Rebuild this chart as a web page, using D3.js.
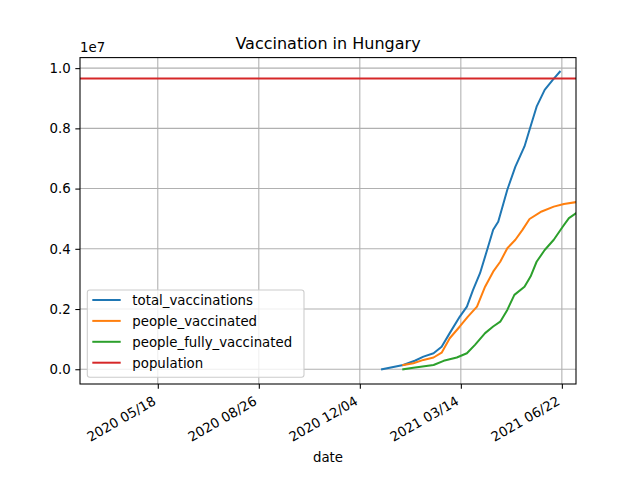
<!DOCTYPE html>
<html>
<head>
<meta charset="utf-8">
<script src="https://cdn.jsdelivr.net/npm/d3@7"></script>
<style>
body { margin: 0; background: #fff; }
text { font-family: "DejaVu Sans", sans-serif; fill: #000; }
</style>
</head>
<body>
<svg id="svg" width="640" height="480"></svg>
<script>
// values
var totalDates = ["2020-12-26","2021-01-16","2021-01-28","2021-02-05","2021-02-15","2021-02-23","2021-03-03","2021-03-13","2021-03-20","2021-03-26","2021-04-02","2021-04-09","2021-04-15","2021-04-20","2021-04-29","2021-05-07","2021-05-16","2021-05-22","2021-05-28","2021-06-05","2021-06-13","2021-06-20"];
var totalVals = [0,0.14,0.29,0.42,0.53,0.75,1.2,1.75,2.08,2.63,3.19,3.96,4.63,4.9,5.96,6.73,7.4,8.06,8.72,9.28,9.61,9.88];

var peopleDates = ["2021-01-16","2021-01-26","2021-02-05","2021-02-15","2021-02-23","2021-03-03","2021-03-13","2021-03-21","2021-03-30","2021-04-07","2021-04-15","2021-04-22","2021-04-29","2021-05-07","2021-05-14","2021-05-21","2021-06-02","2021-06-14","2021-06-24","2021-07-06"];
var peopleVals = [0.14,0.2,0.31,0.39,0.55,1.03,1.42,1.75,2.08,2.74,3.24,3.57,4.02,4.3,4.63,4.99,5.24,5.4,5.49,5.55];

var fullyDates = ["2021-01-16","2021-01-26","2021-02-15","2021-02-25","2021-03-10","2021-03-20","2021-03-28","2021-04-07","2021-04-15","2021-04-22","2021-04-29","2021-05-06","2021-05-16","2021-05-22","2021-05-28","2021-06-05","2021-06-14","2021-06-23","2021-06-29","2021-07-06"];
var fullyVals = [0,0.05,0.14,0.28,0.39,0.53,0.81,1.2,1.42,1.58,1.97,2.47,2.74,3.08,3.57,3.96,4.3,4.74,5.02,5.18];

var popDates = ["2020-03-02","2021-07-06"];
var popVals = [9.66,9.66];

var xTicks = ["2020-05-18","2020-08-26","2020-12-04","2021-03-14","2021-06-22"];
var yTicks = [0,0.2,0.4,0.6,0.8,1.0];

var names = ["total_vaccinations","people_vaccinated","people_fully_vaccinated","population"];
var colors = ["#1f77b4","#ff7f0e","#2ca02c","#d62728"];

var parse = d3.utcParse("%Y-%m-%d");
var fmt = d3.utcFormat("%Y %m/%d");

var L = 80, R = 576, T = 57.6, B = 384;
var svg = d3.select("#svg");

var x = d3.scaleUtc().domain([parse("2020-03-02"), parse("2021-07-06")]).range([L, R]);
var y = d3.scaleLinear().domain([-0.49, 10.35]).range([B, T]);

var series = [
	[totalDates, totalVals],
	[peopleDates, peopleVals],
	[fullyDates, fullyVals],
	[popDates, popVals]
].map(function(s) {
	return s[0].map(function(d, i) { return { date: parse(d), v: s[1][i] }; });
});

// grid
var grid = svg.append("g").attr("stroke", "#b0b0b0").attr("stroke-width", 1.07);
xTicks.forEach(function(t) {
	var px = x(parse(t));
	grid.append("line").attr("x1", px).attr("x2", px).attr("y1", T).attr("y2", B);
});
yTicks.forEach(function(t) {
	var py = y(t * 10);
	grid.append("line").attr("x1", L).attr("x2", R).attr("y1", py).attr("y2", py);
});

// lines
var line = d3.line().x(function(d) { return x(d.date); }).y(function(d) { return y(d.v); });
var clip = svg.append("clipPath").attr("id", "clip").append("rect")
	.attr("x", L).attr("y", T).attr("width", R - L).attr("height", B - T);
series.forEach(function(s, i) {
	svg.append("path").datum(s).attr("d", line)
		.attr("fill", "none").attr("stroke", colors[i]).attr("stroke-width", 2)
		.attr("stroke-linejoin", "round").attr("stroke-linecap", "square")
		.attr("clip-path", "url(#clip)");
});

// frame
svg.append("rect").attr("x", L).attr("y", T).attr("width", R - L).attr("height", B - T)
	.attr("fill", "none").attr("stroke", "#000").attr("stroke-width", 1.07);

// x axis
var xa = svg.append("g").attr("transform", "translate(0," + B + ")")
	.call(d3.axisBottom(x).tickValues(xTicks.map(parse)).tickFormat(fmt).tickSize(4.67).tickPadding(4.67));
xa.select(".domain").remove();
xa.selectAll("line").attr("stroke", "#000").attr("stroke-width", 1.07);
xa.selectAll(".tick text")
	.attr("font-size", "13.33px")
	.attr("text-anchor", "end")
	.attr("x", 0).attr("y", 0).attr("dy", 0)
	.attr("transform", "translate(-1.5,19.7) rotate(-30)");

// y axis
var ya = svg.append("g").attr("transform", "translate(" + L + ",0)")
	.call(d3.axisLeft(y).tickValues(yTicks.map(function(t) { return t * 10; }))
		.tickFormat(function(d) { return d3.format(".1f")(d / 10); }).tickSize(4.67).tickPadding(4.67));
ya.select(".domain").remove();
ya.selectAll("line").attr("stroke", "#000").attr("stroke-width", 1.07);
ya.selectAll("text").attr("font-size", "13.33px");

svg.append("text").attr("x", L).attr("y", 52).attr("font-size", "13.33px").text("1e7");
svg.append("text").attr("x", (L + R) / 2).attr("y", 49).attr("text-anchor", "middle")
	.attr("font-size", "16px").text("Vaccination in Hungary");
svg.append("text").attr("x", (L + R) / 2).attr("y", 462).attr("text-anchor", "middle")
	.attr("font-size", "13.33px").text("date");

// legend
var lg = svg.append("g");
lg.append("rect").attr("x", 87.3).attr("y", 290).attr("width", 216.7).attr("height", 87.3)
	.attr("rx", 2.5).attr("fill", "#fff").attr("fill-opacity", 0.8)
	.attr("stroke", "#cccccc").attr("stroke-width", 1.07);
names.forEach(function(n, i) {
	var ly = 300 + i * 20.9;
	lg.append("line").attr("x1", 92.3).attr("x2", 120.7).attr("y1", ly).attr("y2", ly)
		.attr("stroke", colors[i]).attr("stroke-width", 2);
	lg.append("text").attr("x", 132.3).attr("y", ly + 4.8).attr("font-size", "13.33px").text(n);
});
</script>
</body>
</html>
